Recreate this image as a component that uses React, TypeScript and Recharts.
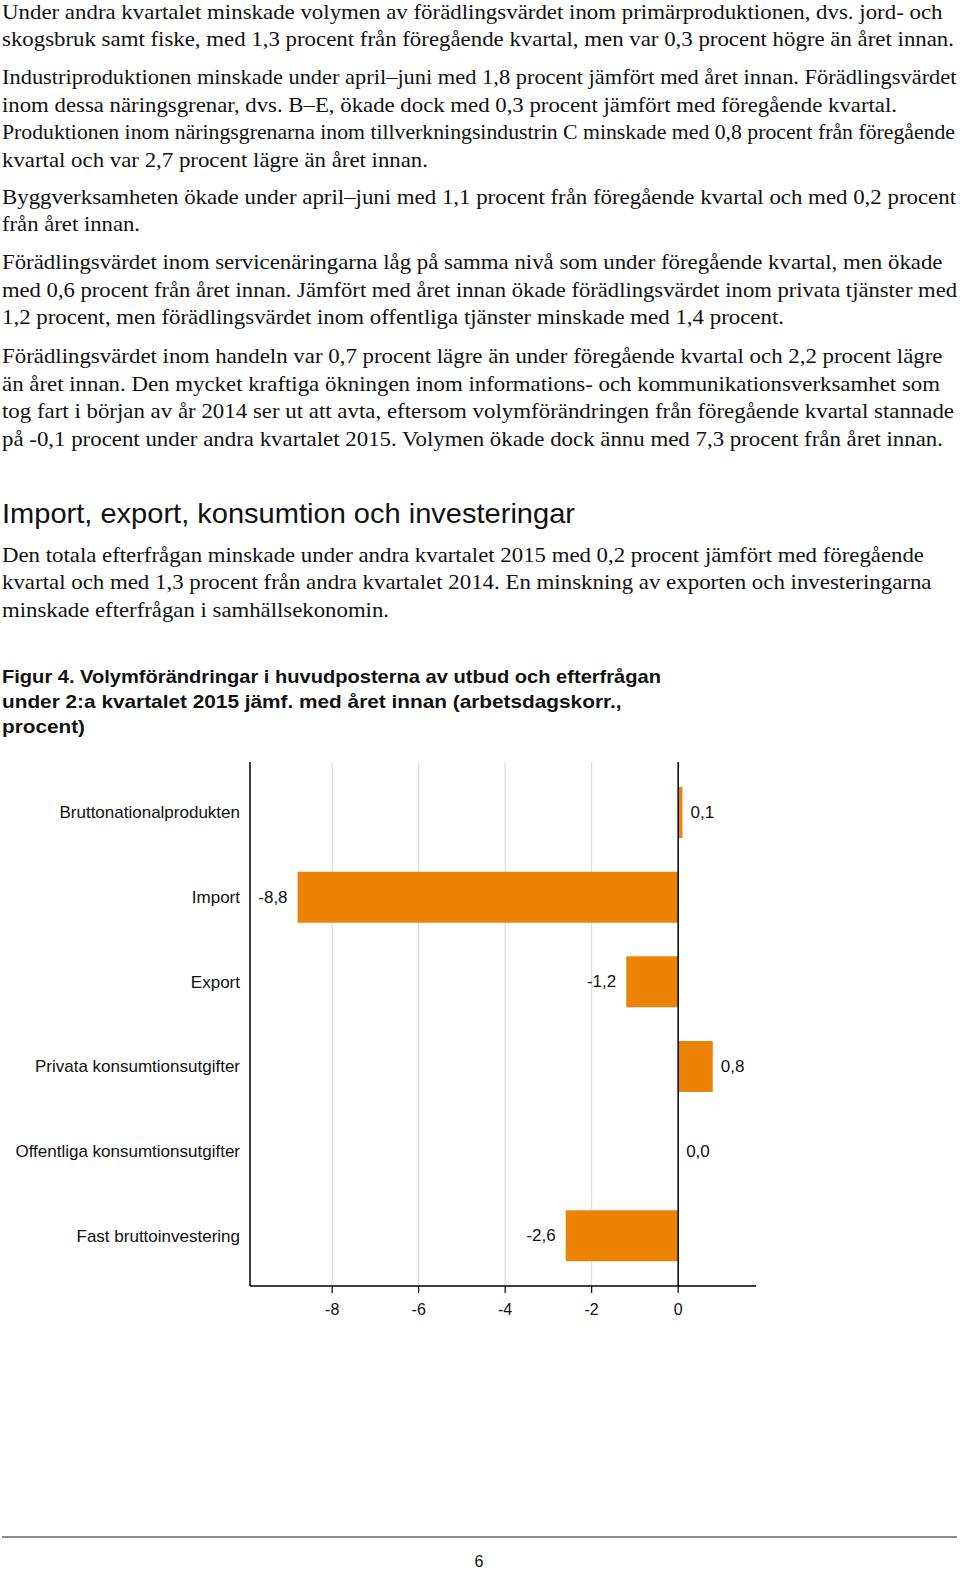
import React from "react";
import { BarChart, Bar, XAxis, YAxis, CartesianGrid, ReferenceLine, LabelList } from "recharts";

const categories = [
  "Bruttonationalprodukten",
  "Import",
  "Export",
  "Privata konsumtionsutgifter",
  "Offentliga konsumtionsutgifter",
  "Fast bruttoinvestering",
];
const values = [0.1, -8.8, -1.2, 0.8, 0.0, -2.6];
const xTicks = [-8, -6, -4, -2, 0];
const gridValues = [-8, -6, -4, -2];
const xDomain: [number, number] = [-9.9, 1.8];

const data = categories.map((name, i) => ({ name, value: values[i] }));

type Line = { t: string; y: number; r: number };

const bodyLines: Line[] = [
  { t: "Under andra kvartalet minskade volymen av förädlingsvärdet inom primärproduktionen, dvs. jord- och", y: 18.5, r: 942.5 },
  { t: "skogsbruk samt fiske, med 1,3 procent från föregående kvartal, men var 0,3 procent högre än året innan.", y: 46, r: 954 },
  { t: "Industriproduktionen minskade under april–juni med 1,8 procent jämfört med året innan. Förädlingsvärdet", y: 84, r: 956.5 },
  { t: "inom dessa näringsgrenar, dvs. B–E, ökade dock med 0,3 procent jämfört med föregående kvartal.", y: 111.5, r: 897 },
  { t: "Produktionen inom näringsgrenarna inom tillverkningsindustrin C minskade med 0,8 procent från föregående", y: 139, r: 955 },
  { t: "kvartal och var 2,7 procent lägre än året innan.", y: 166.5, r: 428 },
  { t: "Byggverksamheten ökade under april–juni med 1,1 procent från föregående kvartal och med 0,2 procent", y: 203.5, r: 956 },
  { t: "från året innan.", y: 231, r: 140 },
  { t: "Förädlingsvärdet inom servicenäringarna låg på samma nivå som under föregående kvartal, men ökade", y: 269, r: 942.5 },
  { t: "med 0,6 procent från året innan. Jämfört med året innan ökade förädlingsvärdet inom privata tjänster med", y: 296.5, r: 957 },
  { t: "1,2 procent, men förädlingsvärdet inom offentliga tjänster minskade med 1,4 procent.", y: 324, r: 784 },
  { t: "Förädlingsvärdet inom handeln var 0,7 procent lägre än under föregående kvartal och 2,2 procent lägre", y: 363, r: 942.5 },
  { t: "än året innan. Den mycket kraftiga ökningen inom informations- och kommunikationsverksamhet som", y: 390.5, r: 940 },
  { t: "tog fart i början av år 2014 ser ut att avta, eftersom volymförändringen från föregående kvartal stannade", y: 418, r: 954 },
  { t: "på -0,1 procent under andra kvartalet 2015. Volymen ökade dock ännu med 7,3 procent från året innan.", y: 445.5, r: 943 },
  { t: "Den totala efterfrågan minskade under andra kvartalet 2015 med 0,2 procent jämfört med föregående", y: 561.5, r: 924 },
  { t: "kvartal och med 1,3 procent från andra kvartalet 2014. En minskning av exporten och investeringarna", y: 589, r: 931.5 },
  { t: "minskade efterfrågan i samhällsekonomin.", y: 616.5, r: 389 },
];

const heading: Line = { t: "Import, export, konsumtion och investeringar", y: 523, r: 575 };

const captionLines: Line[] = [
  { t: "Figur 4. Volymförändringar i huvudposterna av utbud och efterfrågan", y: 683, r: 661 },
  { t: "under 2:a kvartalet 2015 jämf. med året innan (arbetsdagskorr.,", y: 708, r: 621.5 },
  { t: "procent)", y: 733, r: 85 },
];

const pageNumber = "6";

const SERIF = "'Liberation Serif', 'Times New Roman', serif";
const SANS = "'Liberation Sans', Arial, sans-serif";
const LEFT = 2;

const fmt = (v: number) => v.toFixed(1).replace(".", ",");

const renderValueLabel = (props: any) => {
  const { x, y, width, height, value } = props;
  const w = Number(width) || 0;
  const left = Math.min(x, x + w);
  const right = Math.max(x, x + w);
  const neg = Number(value) < 0;
  return (
    <text
      x={neg ? left - 10 : right + 8}
      y={y + height / 2}
      textAnchor={neg ? "end" : "start"}
      dominantBaseline="central"
      fontSize={17}
      fontFamily={SANS}
      fill="#111"
    >
      {fmt(Number(value))}
    </text>
  );
};

export default function App() {
  return (
    <div style={{ position: "absolute", left: 0, top: 0, width: 960, height: 1572, background: "#fff" }}>
      <svg width={960} height={1572} style={{ position: "absolute", left: 0, top: 0 }}>
        {bodyLines.map((l, i) => (
          <text
            key={i}
            x={LEFT}
            y={l.y}
            fontSize={21}
            fontFamily={SERIF}
            fill="#111"
            textLength={l.r - LEFT}
            lengthAdjust="spacingAndGlyphs"
          >
            {l.t}
          </text>
        ))}
        <text
          x={LEFT}
          y={heading.y}
          fontSize={28}
          fontFamily={SANS}
          fill="#111"
          textLength={heading.r - LEFT}
          lengthAdjust="spacingAndGlyphs"
        >
          {heading.t}
        </text>
        {captionLines.map((l, i) => (
          <text
            key={i}
            x={LEFT}
            y={l.y}
            fontSize={19}
            fontWeight="bold"
            fontFamily={SANS}
            fill="#111"
            textLength={l.r - LEFT}
            lengthAdjust="spacingAndGlyphs"
          >
            {l.t}
          </text>
        ))}
        <line x1={2} x2={957} y1={1537} y2={1537} stroke="#8c8c8c" strokeWidth={2} />
        <text x={479} y={1567} textAnchor="middle" fontSize={16} fontFamily={SANS} fill="#111">
          {pageNumber}
        </text>
      </svg>
      <div style={{ position: "absolute", left: 0, top: 740 }}>
        <BarChart
          width={960}
          height={600}
          data={data}
          layout="vertical"
          margin={{ top: 22, right: 204, bottom: 24, left: 0 }}
          barSize={51}
        >
          <CartesianGrid
            horizontal={false}
            vertical={true}
            verticalValues={gridValues}
            stroke="#d6d6d6"
            strokeWidth={1}
          />
          <XAxis
            type="number"
            domain={xDomain}
            ticks={xTicks}
            allowDataOverflow
            height={30}
            axisLine={{ stroke: "#000", strokeWidth: 1.5 }}
            tickLine={{ stroke: "#000", strokeWidth: 1.2 }}
            tickSize={7}
            tickMargin={11}
            tick={{ fontSize: 16, fill: "#111", fontFamily: SANS }}
          />
          <YAxis
            type="category"
            dataKey="name"
            width={250}
            padding={{ top: 8, bottom: 8 }}
            axisLine={{ stroke: "#000", strokeWidth: 1.5 }}
            tickLine={false}
            tickSize={6}
            tickMargin={4}
            interval={0}
            tick={{ fontSize: 17, fill: "#111", fontFamily: SANS }}
          />
          <Bar dataKey="value" fill="#EC8305" isAnimationActive={false} minPointSize={0.01}>
            <LabelList dataKey="value" content={renderValueLabel} />
          </Bar>
          <ReferenceLine x={0} stroke="#000" strokeWidth={1.5} />
        </BarChart>
      </div>
    </div>
  );
}
